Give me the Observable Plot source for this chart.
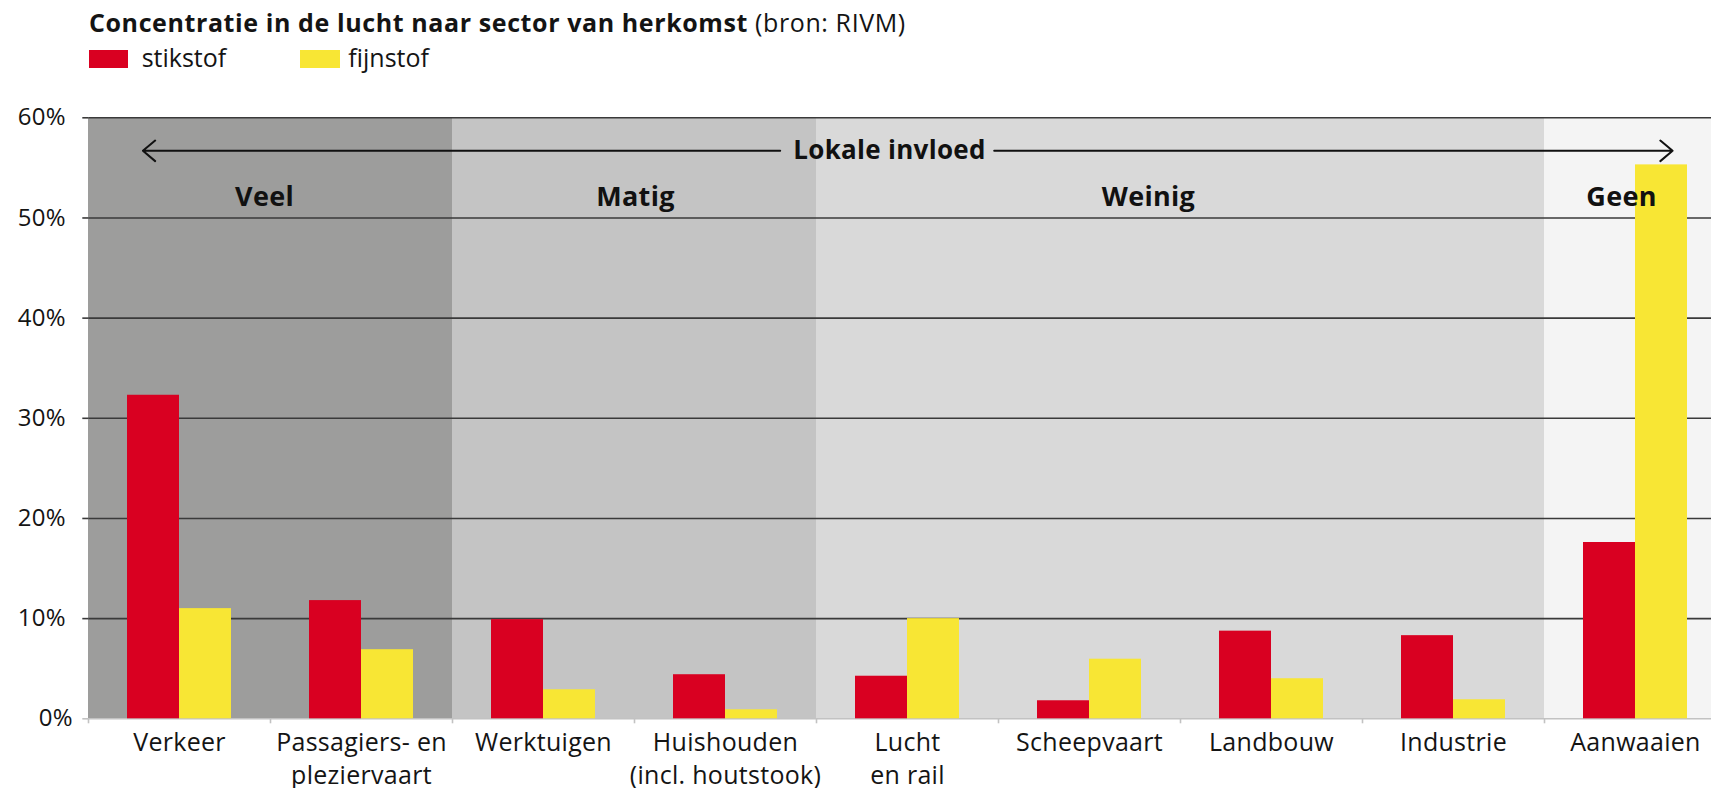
<!DOCTYPE html>
<html>
<head>
<meta charset="utf-8">
<script src="https://cdn.jsdelivr.net/npm/d3@7"></script>
<script src="https://cdn.jsdelivr.net/npm/@observablehq/plot@0.6"></script>
<style>
  html, body { margin: 0; padding: 0; background: #fff; overflow: hidden; }
  body { width: 1711px; height: 788px; font-family: "Open Sans", Lato, sans-serif; color: #141414; }
  #header { position: relative; height: 90px; }
  #title { position: absolute; left: 89px; top: 9.5px; font-size: 25px; letter-spacing: 0.6px; line-height: 1; white-space: nowrap; }
  #title b { font-weight: 700; }
  .sw { position: absolute; top: 50px; height: 18px; }
  .lt { position: absolute; top: 44.5px; font-size: 25px; line-height: 1; white-space: nowrap; }
</style>
</head>
<body>
<div id="header">
  <div id="title"><b>Concentratie in de lucht naar sector van herkomst</b> (bron: RIVM)</div>
</div>
<div id="chart"></div>
<script>
// ---- data ----
const categories = [
  "Verkeer",
  "Passagiers- en\npleziervaart",
  "Werktuigen",
  "Huishouden\n(incl. houtstook)",
  "Lucht\nen rail",
  "Scheepvaart",
  "Landbouw",
  "Industrie",
  "Aanwaaien"
];
const stikstof = [32.3, 11.8, 9.9, 4.4, 4.25, 1.8, 8.75, 8.3, 17.6];
const fijnstof = [11.0, 6.9, 2.9, 0.9, 10.0, 5.95, 4.0, 1.9, 55.3];
const zones = ["Veel", "Veel", "Matig", "Matig", "Weinig", "Weinig", "Weinig", "Weinig", "Geen"];
const zoneNames = ["Veel", "Matig", "Weinig", "Geen"];
const seriesNames = ["stikstof", "fijnstof"];
const yTicks = [0, 10, 20, 30, 40, 50, 60];
const arrowLabel = "Lokale invloed";

// ---- styles ----
const zoneColors = ["#9d9d9c", "#c4c4c4", "#d9d9d9", "#f4f4f4"];
const seriesColors = ["#d90021", "#f8e634"];
const font = "'Open Sans', Lato, sans-serif";

// ---- legend ----
const header = document.getElementById("header");
const legendPos = [{sw: 89.3, sww: 38.4, tx: 141.7}, {sw: 300, sww: 40, tx: 348.3}];
seriesNames.forEach((name, i) => {
  const s = document.createElement("div");
  s.className = "sw";
  s.style.left = legendPos[i].sw + "px";
  s.style.width = legendPos[i].sww + "px";
  s.style.background = seriesColors[i];
  header.appendChild(s);
  const t = document.createElement("div");
  t.className = "lt";
  t.style.left = legendPos[i].tx + "px";
  t.textContent = name;
  header.appendChild(t);
});

// ---- chart ----
const table = categories.map((c, i) => ({category: c, zone: zones[i], stikstof: stikstof[i], fijnstof: fijnstof[i]}));

const ML = 88.3, W = 1726.3, MT = 27.3, plotH = 601, MB = 80;
const step = (W - ML) / categories.length;
const barW = 52;
const yArrow = 56.7, yZone = 52.1;
const gridColor = "#3a3a3a";
const baseColor = "#c2c2c2";

const zoneLabel = (name, anchorIdx, dx) =>
  Plot.text([name], {x: () => categories[anchorIdx], y: () => yZone, text: d => d, dx,
    fontWeight: "bold", fontSize: 27, fill: "#111", lineAnchor: "middle"});

const chart = Plot.plot({
  width: W,
  height: MT + plotH + MB,
  marginLeft: ML,
  marginRight: 0,
  marginTop: MT,
  marginBottom: MB,
  style: {fontFamily: font, fontSize: "24px", color: "#141414", letterSpacing: "0.3px",
          background: "transparent", maxWidth: "none", overflow: "visible"},
  x: {type: "band", domain: categories, padding: 0, axis: null, label: null},
  y: {domain: [0, d3.max(yTicks)], axis: null, label: null},
  color: {domain: zoneNames, range: zoneColors},
  marks: [
    // zone backgrounds
    Plot.barY(table, {x: "category", y1: () => 0, y2: () => d3.max(yTicks), fill: "zone"}),
    // gridlines
    Plot.ruleY(yTicks.filter(d => d > 0), {stroke: gridColor, strokeWidth: 1.6}),
    Plot.ruleY([0], {stroke: baseColor, strokeWidth: 1.6}),
    // bars
    Plot.barY(table, {x: "category", y: "stikstof", fill: seriesColors[0],
      insetLeft: step / 2 - barW, insetRight: step / 2}),
    Plot.barY(table, {x: "category", y: "fijnstof", fill: seriesColors[1],
      insetLeft: step / 2, insetRight: step / 2 - barW}),
    // "Lokale invloed" arrow
    Plot.arrow([arrowLabel], {x1: () => categories[3], x2: () => categories[0], y1: () => yArrow, y2: () => yArrow,
      insetStart: -54.7, insetEnd: -36.6, stroke: "#111", strokeWidth: 2, headLength: 12, headAngle: 80}),
    Plot.arrow([arrowLabel], {x1: () => categories[4], x2: () => categories[8], y1: () => yArrow, y2: () => yArrow,
      insetStart: 86.7, insetEnd: -37.1, stroke: "#111", strokeWidth: 2, headLength: 12, headAngle: 80}),
    Plot.text([arrowLabel], {x: () => categories[4], y: () => yArrow, text: d => d, dx: -18,
      fontWeight: "bold", fontSize: 26, fill: "#111"}),
    // zone labels
    zoneLabel(zoneNames[0], 0, 85),
    zoneLabel(zoneNames[1], 2, 92),
    zoneLabel(zoneNames[2], 5, 59),
    zoneLabel(zoneNames[3], 8, -14),
    // axes
    Plot.axisY({ticks: yTicks.filter(d => d > 0), tickFormat: d => d + "%", tickSize: 6, tickPadding: 17,
      stroke: gridColor, strokeWidth: 1.6, fill: "#141414", fontSize: 24, label: null}),
    Plot.axisY({ticks: [0], tickFormat: d => d + "%", tickSize: 6, tickPadding: 10,
      stroke: baseColor, strokeWidth: 1.6, fill: "#141414", fontSize: 24, label: null}),
    Plot.axisX({tickSize: 5, tickFormat: () => "", dx: -step / 2, stroke: baseColor, strokeWidth: 1.6, label: null}),
    Plot.axisX({tickSize: 0, tickPadding: 8, fontSize: 25, lineHeight: 1.34, fill: "#141414", label: null})
  ]
});
document.getElementById("chart").appendChild(chart);
</script>
</body>
</html>
